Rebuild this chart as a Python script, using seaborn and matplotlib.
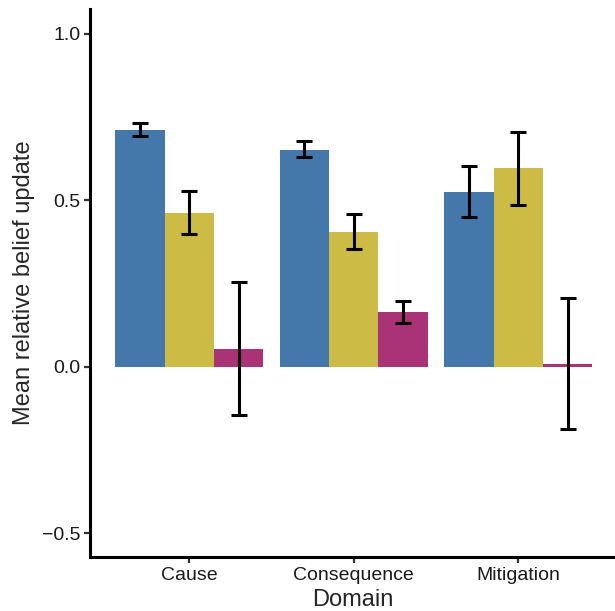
import pandas as pd
import seaborn as sns
import matplotlib.pyplot as plt

# Values
domains = ['Cause', 'Consequence', 'Mitigation']
groups = ['Group 1', 'Group 2', 'Group 3']
means = {
    'Group 1': [0.711, 0.651, 0.525],
    'Group 2': [0.463, 0.405, 0.597],
    'Group 3': [0.053, 0.164, 0.008],
}
err_low = {
    'Group 1': [0.692, 0.629, 0.449],
    'Group 2': [0.398, 0.353, 0.485],
    'Group 3': [-0.146, 0.130, -0.188],
}
err_high = {
    'Group 1': [0.732, 0.678, 0.602],
    'Group 2': [0.527, 0.458, 0.705],
    'Group 3': [0.255, 0.197, 0.206],
}
colors = ['#4477AA', '#CCBB44', '#AA3377']

rows = []
for g in groups:
    for i, d in enumerate(domains):
        rows.append({'Domain': d, 'Group': g, 'mean': means[g][i],
                     'lo': err_low[g][i], 'hi': err_high[g][i]})
df = pd.DataFrame(rows)

sns.set_style('ticks')
plt.rcParams['font.family'] = ['Liberation Sans', 'DejaVu Sans']

fig = plt.figure(figsize=(6.15, 6.11), dpi=100)
ax = fig.add_axes([90 / 615, 1 - 557 / 611, 1 - 90 / 615, (557 - 9) / 611])

sns.barplot(data=df, x='Domain', y='mean', hue='Group', order=domains,
            hue_order=groups, palette=colors, width=0.9, errorbar=None,
            saturation=1, legend=False, linewidth=0, ax=ax)

# Error bars on top of each bar
for g, cont in zip(groups, ax.containers):
    sub = df[df['Group'] == g].set_index('Domain').loc[domains]
    xs = [b.get_x() + b.get_width() / 2 for b in cont]
    ys = sub['mean'].values
    yerr = [ys - sub['lo'].values, sub['hi'].values - ys]
    ax.errorbar(xs, ys, yerr=yerr, fmt='none', ecolor='black',
                elinewidth=2.2, capsize=6, capthick=2.2, zorder=3)

ax.set_xlim(-0.604, 2.588)
ax.set_ylim(-0.572, 1.075)
ax.set_yticks([-0.5, 0.0, 0.5, 1.0])
ax.set_yticklabels(['\u22120.5', '0.0', '0.5', '1.0'])

for s in ['top', 'right']:
    ax.spines[s].set_visible(False)
for s in ['left', 'bottom']:
    ax.spines[s].set_linewidth(2.2)
    ax.spines[s].set_color('black')
ax.tick_params(axis='both', length=4, width=1.6, color='#333333',
               labelsize=14, labelcolor='#1a1a1a', pad=3)

ax.set_xlabel('Domain', fontsize=17, labelpad=4)
ax.set_ylabel('Mean relative belief update', fontsize=17, labelpad=5)

fig.savefig('out.png', dpi=100)
